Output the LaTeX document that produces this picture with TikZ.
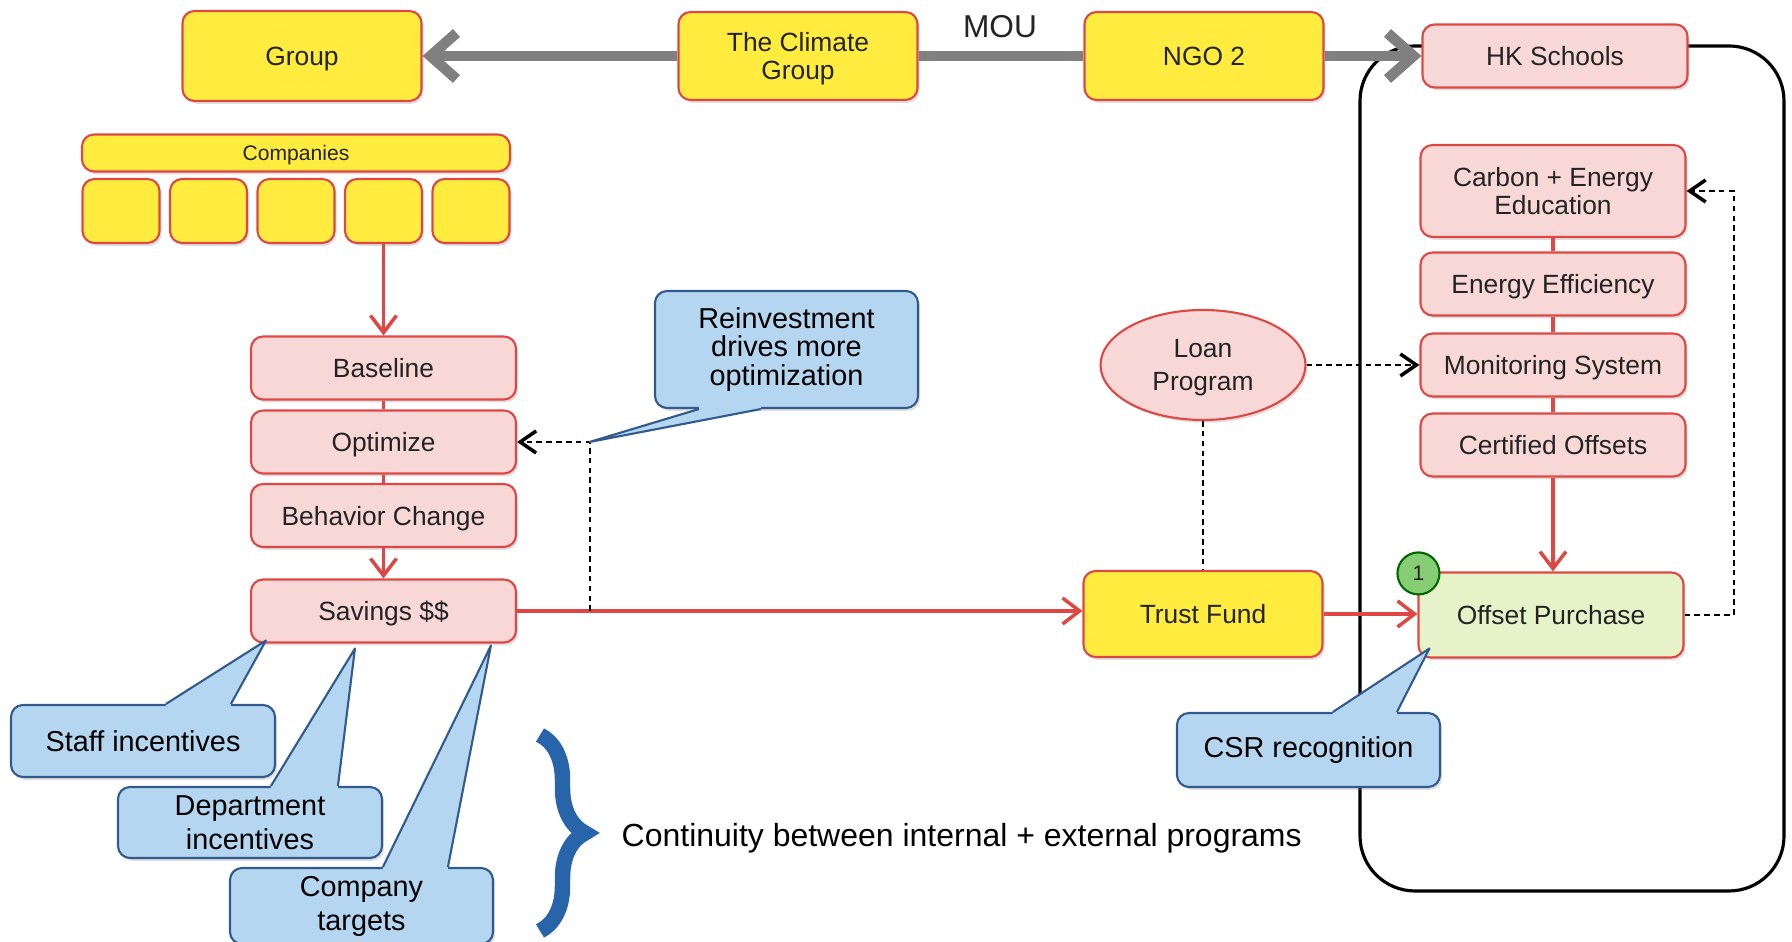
\documentclass[tikz,border=0pt]{standalone}
\usepackage{fontspec}
\setmainfont{Liberation Sans}
\usepackage{tikz}
\usetikzlibrary{arrows.meta,positioning,shapes.geometric,shadows,decorations.pathreplacing}

\definecolor{boxyellow}{RGB}{255,236,62}
\definecolor{boxpink}{RGB}{248,215,215}
\definecolor{boxgreen}{RGB}{230,242,200}
\definecolor{boxred}{RGB}{222,72,68}
\definecolor{noteblue}{RGB}{180,214,240}
\definecolor{noteline}{RGB}{50,90,140}
\definecolor{braceblue}{RGB}{40,100,170}
\definecolor{mougray}{RGB}{128,128,128}
\definecolor{dotgreen}{RGB}{135,205,115}
\definecolor{textgray}{RGB}{35,35,35}

% base a, base b, tip, shift into the note
\newcommand{\callpointer}[4]{%
  \coordinate (pa) at (#1);
  \coordinate (pb) at (#2);
  \fill[noteblue] (pa) -- (#3) -- (pb) -- ([yshift=#4]pb) -- ([yshift=#4]pa) -- cycle;
  \draw[noteline, line width=0.6pt, line join=round] (pa) -- (#3) -- (pb);
}

\begin{document}
\begin{tikzpicture}[
  font=\fontsize{7.5}{7.8}\selectfont, text=textgray,
  box/.style={draw=boxred, line width=0.6pt, rounded corners=0.12cm, align=center, inner sep=0pt,
    text depth=0pt, drop shadow={shadow xshift=0.6pt, shadow yshift=-0.8pt, opacity=0.25}},
  yellowbox/.style={box, fill=boxyellow, minimum width=2.39cm, minimum height=0.88cm},
  pinkbox/.style={box, fill=boxpink, minimum width=2.65cm, minimum height=0.63cm},
  note/.style={draw=noteline, fill=noteblue, line width=0.6pt, rounded corners=0.12cm, align=center,
    inner sep=0pt, text=black, font=\fontsize{8.2}{8.1}\selectfont,
    drop shadow={shadow xshift=0.6pt, shadow yshift=-0.8pt, opacity=0.25}},
  redline/.style={draw=boxred, line width=1pt},
  redarrow/.style={redline, -{Straight Barb[length=1.7mm,width=2.6mm]}},
  dashline/.style={draw=black, line width=0.55pt, dash pattern=on 1.6pt off 1.2pt},
  dasharrow/.style={dashline, -{Straight Barb[length=1.6mm,width=2.2mm,line width=1pt]}},
  mouarrow/.style={draw=mougray, line width=3pt, -{Straight Barb[length=2.6mm,width=4.6mm]}}
]
\useasboundingbox (0,0) rectangle (17.92,9.42);

% school frame
\draw[line width=0.9pt, rounded corners=0.55cm] (13.60,0.51) rectangle (17.84,8.96);

% top row
\node[yellowbox, minimum height=0.90cm] (group) at (3.02,8.86) {Group};
\node[yellowbox] (climate) at (7.98,8.86) {The Climate\\Group};
\node[yellowbox] (ngo) at (12.04,8.86) {NGO 2};
\node[pinkbox] (hk) at (15.55,8.86) {HK Schools};
\node[font=\fontsize{9}{9}\selectfont] (mou) at (10.00,9.15) {MOU};

\draw[mouarrow] (climate.west) -- (group.east);
\draw[mouarrow, -] (climate.east) -- (ngo.west);
\draw[mouarrow] (ngo.east) -- (hk.west);

% companies
\node[box, fill=boxyellow, minimum width=4.28cm, minimum height=0.37cm,
  font=\fontsize{6}{6}\selectfont] (comp) at (2.96,7.89) {Companies};
\foreach \i in {0,...,4}
  \node[box, fill=boxyellow, minimum width=0.77cm, minimum height=0.64cm] (co\i) at ({1.21+0.875*\i},7.31) {};

% internal program
\node[pinkbox] (baseline) at (3.835,5.74) {Baseline};
\node[pinkbox] (optimize) at (3.835,5.00) {Optimize};
\node[pinkbox] (behavior) at (3.835,4.265) {Behavior Change};
\node[pinkbox] (savings) at (3.835,3.31) {Savings \$\$};

% external program
\node[yellowbox, minimum height=0.86cm] (trust) at (12.03,3.28) {Trust Fund};
\node[ellipse, draw=boxred, fill=boxpink, line width=0.6pt, minimum width=2.05cm, minimum height=1.10cm,
  inner sep=0pt, align=center, text depth=0pt, font=\fontsize{7.5}{9.4}\selectfont,
  drop shadow={shadow xshift=0.6pt, shadow yshift=-0.8pt, opacity=0.25}] (loan) at (12.03,5.77) {Loan\\Program};
\node[pinkbox, minimum height=0.92cm] (carbon) at (15.53,7.51) {Carbon + Energy\\Education};
\node[pinkbox] (effic) at (15.53,6.58) {Energy Efficiency};
\node[pinkbox] (monitor) at (15.53,5.77) {Monitoring System};
\node[pinkbox] (certified) at (15.53,4.97) {Certified Offsets};
\node[box, fill=boxgreen, minimum width=2.65cm, minimum height=0.85cm] (offset) at (15.51,3.27) {Offset Purchase};
\node[circle, fill=dotgreen, draw=black!60!green, line width=0.6pt, minimum size=0.42cm, inner sep=0pt,
  font=\fontsize{6}{6}\selectfont] (one) at ([xshift=0.01cm,yshift=-0.02cm]offset.north west) {1};

% connectors
\draw[redarrow] (co3.south) -- (baseline.north);
\draw[redline] (baseline.south) -- (optimize.north);
\draw[redline] (optimize.south) -- (behavior.north);
\draw[redarrow] (behavior.south) -- (savings.north);
\draw[redarrow] (savings.east) -- (savings.east -| trust.west);
\draw[redarrow] (trust.east) -- (trust.east -| offset.west);
\draw[redline] (carbon.south) -- (effic.north);
\draw[redline] (effic.south) -- (monitor.north);
\draw[redline] (monitor.south) -- (certified.north);
\draw[redarrow] (certified.south) -- (certified.south |- offset.north);

\coordinate (turn) at ([xshift=0.725cm]optimize.east);
\coordinate (loopr) at ([xshift=0.47cm]carbon.east);
\draw[dasharrow] (savings.east -| turn) -- (turn) -- (optimize.east);
\draw[dashline] (loan.south) -- (trust.north);
\draw[dasharrow] (loan.east) -- (loan.east -| monitor.west);
\draw[dasharrow] (offset.east) -| (loopr) -- (carbon.east);

% notes
\node[note, minimum width=2.63cm, minimum height=1.17cm] (reinv) at (7.865,5.925) {Reinvestment\\drives more\\optimization};
\callpointer{[xshift=0.45cm]reinv.south west}{[xshift=1.07cm]reinv.south west}{turn}{1pt}

\node[note, minimum width=2.64cm, minimum height=0.72cm] (staff) at (1.43,2.01) {Staff incentives};
\callpointer{[xshift=1.56cm]staff.north west}{[xshift=2.21cm]staff.north west}{[xshift=0.16cm,yshift=0.03cm]savings.south west}{-1pt}

\node[note, minimum width=2.64cm, minimum height=0.71cm, font=\fontsize{8.2}{9.7}\selectfont] (dept) at (2.50,1.195) {Department\\incentives};
\callpointer{[xshift=1.54cm]dept.north west}{[xshift=2.21cm]dept.north west}{[xshift=1.05cm,yshift=-0.05cm]savings.south west}{-1pt}

\node[note, minimum width=2.63cm, minimum height=0.76cm, font=\fontsize{8.2}{9.7}\selectfont] (target) at (3.615,0.36) {Company\\targets};
\callpointer{[xshift=1.54cm]target.north west}{[xshift=2.19cm]target.north west}{[xshift=2.41cm,yshift=-0.02cm]savings.south west}{-1pt}

\node[note, minimum width=2.63cm, minimum height=0.74cm] (csr) at (13.085,1.92) {CSR recognition};
\callpointer{[xshift=1.57cm]csr.north west}{[xshift=2.21cm]csr.north west}{[xshift=0.12cm,yshift=0.10cm]offset.south west}{-1pt}

% continuity
\draw[braceblue, line width=4.4pt, decorate, decoration={brace, amplitude=0.45cm}] (5.40,2.07) -- (5.40,0.11);
\node[anchor=west, inner sep=0pt, text=black, font=\fontsize{9.1}{9.1}\selectfont] (cont) at (6.21,1.04) {Continuity between internal + external programs};

\end{tikzpicture}
\end{document}
